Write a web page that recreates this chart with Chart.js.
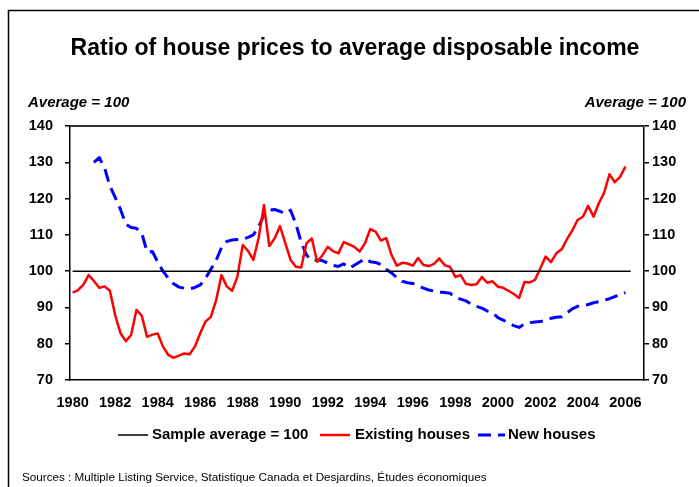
<!DOCTYPE html>
<html>
<head>
<meta charset="utf-8">
<script src="https://cdn.jsdelivr.net/npm/chart.js@4.4.1/dist/chart.umd.min.js"></script>
<style>
  html, body { margin: 0; padding: 0; background: #fff; }
</style>
</head>
<body>
<canvas id="chart" width="699" height="487"></canvas>
<script>
// x axis: quarters 1980 Q1 .. 2006 Q4, labelled every second year
const years = ['1980', '1982', '1984', '1986', '1988', '1990', '1992',
  '1994', '1996', '1998', '2000', '2002', '2004', '2006'];
const quarters = [];
for (let y = 1980; y <= 2006; y++) {
  for (let q = 1; q <= 4; q++) quarters.push(y + ' Q' + q);
}

// Sample average = 100 (1980 Q1 .. 2006 Q2)
const sampleAverage = [
  100, 100, 100, 100, 100, 100, 100, 100, 100, 100,
  100, 100, 100, 100, 100, 100, 100, 100, 100, 100,
  100, 100, 100, 100, 100, 100, 100, 100, 100, 100,
  100, 100, 100, 100, 100, 100, 100, 100, 100, 100,
  100, 100, 100, 100, 100, 100, 100, 100, 100, 100,
  100, 100, 100, 100, 100, 100, 100, 100, 100, 100,
  100, 100, 100, 100, 100, 100, 100, 100, 100, 100,
  100, 100, 100, 100, 100, 100, 100, 100, 100, 100,
  100, 100, 100, 100, 100, 100, 100, 100, 100, 100,
  100, 100, 100, 100, 100, 100, 100, 100, 100, 100,
  100, 100, 100, 100, 100, 100
];

// Existing houses (1980 Q1 .. 2006 Q1)
const existingHouses = [
  94.1, 94.8, 96.2, 98.9, 97.3, 95.4, 95.8, 94.6, 87.9, 82.9,
  80.7, 82.4, 89.3, 87.7, 81.9, 82.5, 82.8, 79.2, 76.9, 76.1,
  76.7, 77.3, 77.1, 79.2, 82.9, 86.1, 87.4, 92.0, 98.9, 95.8,
  94.6, 98.5, 107.2, 105.6, 103.1, 109.2, 118.2, 106.9, 109.0, 112.4,
  107.8, 103.1, 101.2, 101.0, 107.7, 109.0, 102.6, 104.4, 106.7, 105.5,
  104.9, 108.0, 107.4, 106.7, 105.4, 107.7, 111.6, 110.9, 108.4, 109.1,
  104.4, 101.5, 102.3, 102.1, 101.5, 103.6, 101.7, 101.4, 102.0, 103.5,
  101.6, 101.2, 98.4, 98.9, 96.5, 96.2, 96.4, 98.4, 96.8, 97.2,
  95.7, 95.4, 94.6, 93.7, 92.6, 97.0, 96.9, 97.6, 100.8, 104.0,
  102.5, 104.9, 106.0, 108.8, 111.2, 114.1, 115.0, 118.0, 115.0, 118.7,
  121.6, 126.7, 124.5, 126.0, 128.8
];

// New houses (starts 1981 Q1)
const newHouses = [
  null, null, null, null,
  130.0, 131.3, 128.5, 123.5, 120.3, 117.0, 113.0, 112.0, 111.8, 110.5,
  105.3, 105.4, 102.5, 100.0, 98.0, 96.5, 95.6, 95.3, 95.1, 95.5,
  96.2, 98.0, 100.5, 103.0, 106.5, 108.2, 108.6, 108.7, 108.8, 109.3,
  110.0, 112.3, 115.5, 116.8, 117.0, 116.5, 115.8, 116.8, 113.0, 108.0,
  104.4, 103.0, 103.0, 102.9, 102.2, 101.6, 101.3, 102.0, 100.9, 101.6,
  102.5, 103.5, 102.6, 102.4, 101.8, 100.5, 99.5, 98.2, 97.2, 96.8,
  96.6, 96.0, 95.3, 94.8, 94.5, 94.2, 94.1, 93.9, 92.8, 92.3,
  91.8, 90.9, 90.3, 89.8, 89.0, 88.6, 87.2, 86.5, 85.8, 85.0,
  84.5, 85.4, 85.8, 86.0, 86.1, 86.5, 87.0, 87.3, 87.4, 88.5,
  89.6, 90.3, 90.5, 90.8, 91.3, 91.6, 92.0, 92.4, 93.0, 93.5,
  94.1
];

const FONT = '"Liberation Sans", Arial, sans-serif';
const tickFont = { family: FONT, size: 14.5, weight: 'bold' };

// frame, title, "Average = 100", legend and sources
const decorations = {
  id: 'decorations',
  afterDraw(chart) {
    const ctx = chart.ctx;
    const area = chart.chartArea;
    ctx.save();

    // outer frame (left + top)
    ctx.strokeStyle = '#000';
    ctx.lineWidth = 1.5;
    ctx.beginPath();
    ctx.moveTo(8.5, 487);
    ctx.lineTo(8.5, 10.5);
    ctx.lineTo(699, 10.5);
    ctx.stroke();

    // top edge of plot area
    ctx.strokeStyle = '#333';
    ctx.lineWidth = 2;
    ctx.beginPath();
    ctx.moveTo(area.left, area.top);
    ctx.lineTo(area.right, area.top);
    ctx.stroke();

    ctx.fillStyle = '#000';
    ctx.textBaseline = 'middle';

    ctx.font = 'bold 23px ' + FONT;
    ctx.textAlign = 'center';
    ctx.fillText('Ratio of house prices to average disposable income', 355, 49);

    ctx.font = 'italic bold 15px ' + FONT;
    ctx.textAlign = 'left';
    ctx.fillText('Average = 100', 28, 103);
    ctx.textAlign = 'right';
    ctx.fillText('Average = 100', 686, 103);

    // legend
    const items = [
      { ds: 0, x0: 118, x1: 148, tx: 152 },
      { ds: 1, x0: 320, x1: 350, tx: 355 },
      { ds: 2, x0: 478, x1: 505, tx: 508 }
    ];
    ctx.font = 'bold 15px ' + FONT;
    ctx.textAlign = 'left';
    items.forEach(it => {
      const d = chart.data.datasets[it.ds];
      ctx.strokeStyle = d.borderColor;
      ctx.lineWidth = d.borderWidth;
      ctx.setLineDash(d.borderDash || []);
      ctx.beginPath();
      ctx.moveTo(it.x0, 435);
      ctx.lineTo(it.x1, 435);
      ctx.stroke();
      ctx.setLineDash([]);
      ctx.fillText(d.label, it.tx, 435);
    });

    ctx.font = '11.7px ' + FONT;
    ctx.fillText('Sources : Multiple Listing Service, Statistique Canada et Desjardins, Études économiques', 22, 478);
    ctx.restore();
  }
};

const yAxis = (position, width, pad) => ({
  position: position,
  display: true,
  min: 70,
  max: 140,
  ticks: { stepSize: 10, color: '#000', font: tickFont, padding: pad },
  grid: { drawOnChartArea: false, drawTicks: true, tickLength: 5, color: '#000', lineWidth: 1.5 },
  border: { display: true, color: '#000', width: 1.5 },
  afterFit: s => { s.width = width; }
});

new Chart(document.getElementById('chart'), {
  type: 'line',
  data: {
    labels: quarters,
    datasets: [
      { label: 'Sample average = 100', data: sampleAverage, borderColor: '#000000',
        borderWidth: 1.5, pointRadius: 0, yAxisID: 'y' },
      { label: 'Existing houses', data: existingHouses, borderColor: '#ff0000',
        borderWidth: 2.5, borderJoinStyle: 'round', pointRadius: 0, yAxisID: 'y' },
      { label: 'New houses', data: newHouses, borderColor: '#0000ff',
        borderWidth: 3, borderDash: [13, 7], borderJoinStyle: 'round', pointRadius: 0, yAxisID: 'y' }
    ]
  },
  options: {
    responsive: false,
    animation: false,
    layout: { padding: { left: 8, right: 0, top: 126, bottom: 77 } },
    plugins: {
      legend: { display: false },
      title: { display: false },
      tooltip: { enabled: false }
    },
    scales: {
      x: {
        offset: true,
        grid: { display: false, drawTicks: false },
        border: { display: true, color: '#000', width: 1.5 },
        ticks: {
          autoSkip: false,
          maxRotation: 0,
          padding: 14,
          color: '#000',
          font: tickFont,
          callback: (v, i) => (i % 8 === 0 ? years[i / 8] : '')
        },
        afterFit: s => { s.height = 30; }
      },
      y: yAxis('left', 62, 12),
      y2: yAxis('right', 55, 3)
    }
  },
  plugins: [decorations]
});
</script>
</body>
</html>
